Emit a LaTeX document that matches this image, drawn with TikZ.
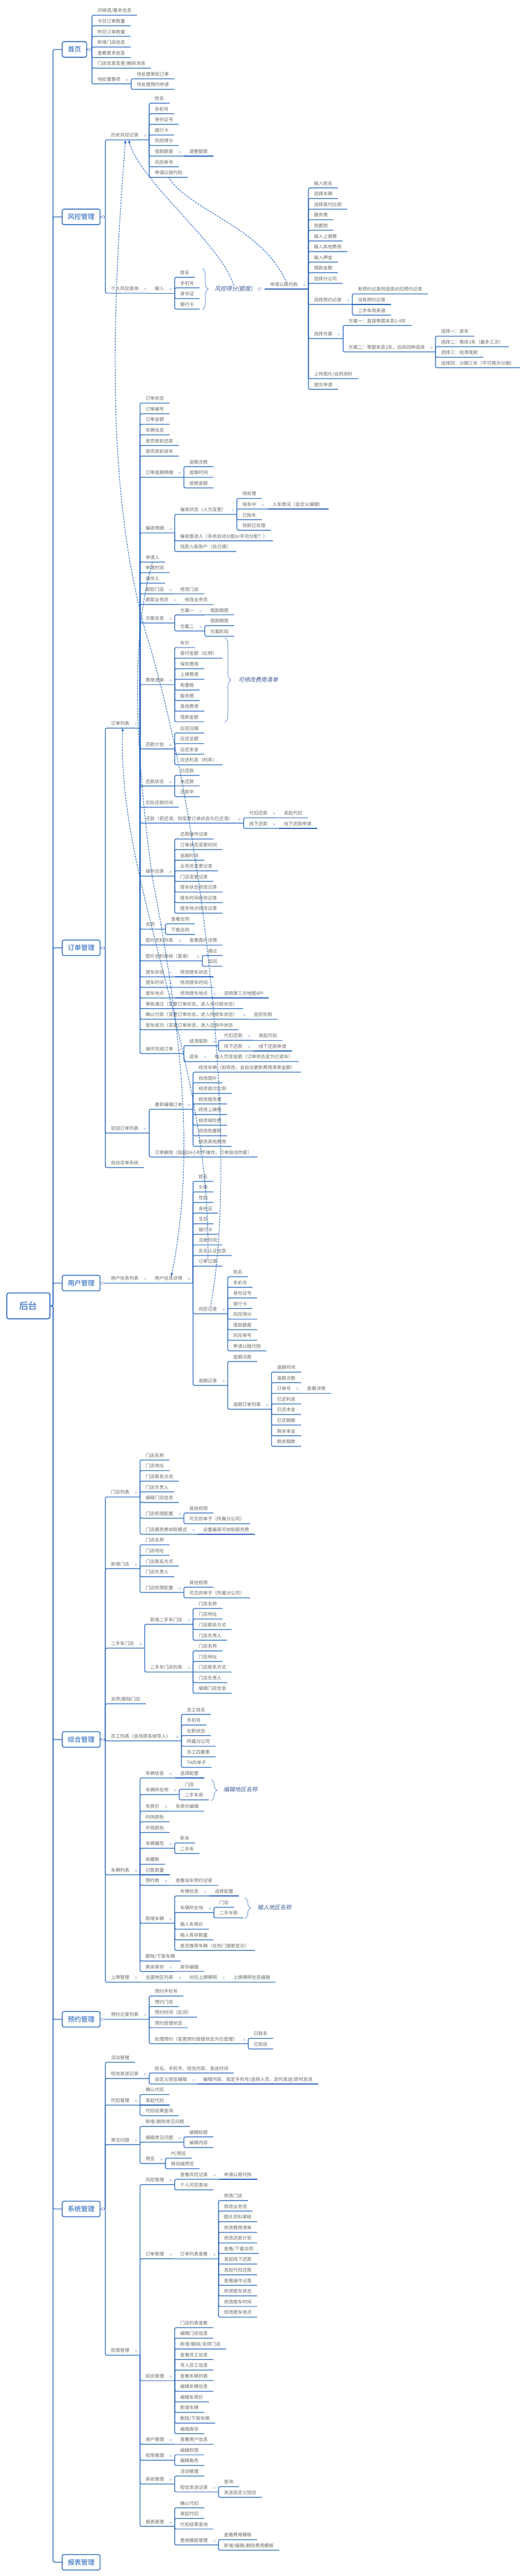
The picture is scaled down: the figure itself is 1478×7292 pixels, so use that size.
\documentclass[tikz,border=0pt]{standalone}
\usepackage{fontspec}
\setmainfont{Noto Sans CJK SC}
\newfontfamily\slantcjk{Noto Sans CJK SC}[FakeSlant=0.2]
\newfontfamily\symbolfont{DejaVu Sans}
\usetikzlibrary{arrows.meta,decorations.pathreplacing}

\definecolor{linkblue}{RGB}{22,90,182}
\definecolor{textgray}{RGB}{105,105,105}
\definecolor{foldblue}{RGB}{135,160,212}
\definecolor{braceblue}{RGB}{95,145,210}
\definecolor{noteblue}{RGB}{62,92,150}

\newcommand\foldmark{\hspace{15pt}{\symbolfont\fontsize{9}{9}\selectfont\textcolor{foldblue}{⊖}}\hspace{-8pt}}

\tikzset{
  link/.style={draw=linkblue, line width=1.8pt, rounded corners=4pt},
  topic/.style={anchor=south west, inner xsep=15.5pt, inner ysep=0pt, text height=10pt, text depth=8pt, text=textgray, font=\fontsize{13}{13}\selectfont},
  hub/.style={topic, execute at end node=\foldmark},
  topbox/.style={anchor=west, draw=linkblue, line width=2pt, rounded corners=5pt, inner xsep=15.5pt, minimum height=44pt, text=linkblue, font=\fontsize{19}{19}\selectfont},
  rootbox/.style={topbox, inner xsep=35pt, minimum height=73pt, line width=2.4pt, font=\fontsize{26}{26}\selectfont},
  note/.style={anchor=west, inner sep=2pt, text=noteblue, font=\slantcjk\fontsize{16}{16}\selectfont},
  curly/.style={decorate, decoration={brace, amplitude=17pt}, draw=braceblue, line width=1.4pt},
  relation/.style={draw=linkblue, line width=1.5pt, dash pattern=on 5pt off 3pt},
  foldring/.style={draw=foldblue, fill=white, line width=0.8pt}
}

\begin{document}
\begin{tikzpicture}[x=1pt, y=-1pt]
  \useasboundingbox (0,0) rectangle (1478,7292);

  \node[rootbox] (ht) at (18,3696.5) {后台};
  \node[topbox] (sy) at (175,140) {首页};
  \node[topbox] (fk) at (175,614) {风控管理};
  \node[topbox] (dd) at (175,2683) {订单管理};
  \node[topbox] (yh) at (175,3632) {用户管理};
  \node[topbox] (zh) at (175,4924) {综合管理};
  \node[topbox] (yy) at (175,5716) {预约管理};
  \node[topbox] (xt) at (175,6253) {系统管理};
  \node[topbox] (bb) at (175,7253) {报表管理};
  \foreach \b in {sy,fk,dd,yh,zh,yy,xt,bb} \draw[link] (ht.east) -| ([xshift=-25pt]\b.west) -- (\b.west);

  \node[topic, xshift=14pt] (sy-1) at (sy.east |- 0,43) {问候语/基本信息};
  \node[topic, xshift=14pt] (sy-2) at (sy.east |- 0,73) {今日订单数量};
  \node[topic, xshift=14pt] (sy-3) at (sy.east |- 0,103) {昨日订单数量};
  \node[topic, xshift=14pt] (sy-4) at (sy.east |- 0,133) {新增门店信息};
  \node[topic, xshift=14pt] (sy-5) at (sy.east |- 0,163) {查看更多信息};
  \node[topic, xshift=14pt] (sy-6) at (sy.east |- 0,193) {门店信息变更/删除消息};
  \node[hub, xshift=14pt] (sy-7) at (sy.east |- 0,237.5) {待处理事项};
  \node[topic] (sy-7-1) at (sy-7.south east |- 0,223) {待处理审批订单};
  \node[topic] (sy-7-2) at (sy-7.south east |- 0,253) {待处理预约申请};
  \foreach \k in {1,...,7} \draw[link] (sy.east) -- ++(14pt,0) |- (sy-\k.south east);
  \foreach \k in {1,2} \draw[link] (sy-7.south east) |- (sy-7-\k.south east);

  \node[hub, xshift=14pt] (fk-1) at (fk.east |- 0,396) {历史风控记录};
  \node[topic] (fk-1-1) at (fk-1.south east |- 0,292) {姓名};
  \node[topic] (fk-1-2) at (fk-1.south east |- 0,322) {手机号};
  \node[topic] (fk-1-3) at (fk-1.south east |- 0,352) {身份证号};
  \node[topic] (fk-1-4) at (fk-1.south east |- 0,382) {银行卡};
  \node[topic] (fk-1-5) at (fk-1.south east |- 0,412) {风控得分};
  \node[hub] (fk-1-6) at (fk-1.south east |- 0,442) {借款额度};
  \node[topic] (fk-1-6-1) at (fk-1-6.south east) {调整额度};
  \node[topic] (fk-1-7) at (fk-1.south east |- 0,472) {风控单号};
  \node[topic] (fk-1-8) at (fk-1.south east |- 0,502) {申请以租代购};
  \node[hub, xshift=14pt] (fk-2) at (fk.east |- 0,830) {个人风控查询};
  \node[hub] (fk-2-1) at (fk-2.south east) {输入};
  \node[topic] (fk-2-1-1) at (fk-2-1.south east |- 0,785) {姓名};
  \node[topic] (fk-2-1-2) at (fk-2-1.south east |- 0,815) {手机号};
  \node[topic] (fk-2-1-3) at (fk-2-1.south east |- 0,845) {身份证};
  \node[topic] (fk-2-1-4) at (fk-2-1.south east |- 0,875) {银行卡};
  \draw[curly] (572,760) -- (572,877);
  \node[note] (fkdf) at (605,818) {风控得分(额度)};
  \node[hub, xshift=32pt] (zl) at (fkdf.east) {申请以租代购};
  \node[topic] (zl-1) at (zl.south east |- 0,532) {输入姓名};
  \node[topic] (zl-2) at (zl.south east |- 0,562) {选择车辆};
  \node[topic] (zl-3) at (zl.south east |- 0,592) {选择首付比例};
  \node[topic] (zl-4) at (zl.south east |- 0,622) {服务费};
  \node[topic] (zl-5) at (zl.south east |- 0,652) {购置税};
  \node[topic] (zl-6) at (zl.south east |- 0,682) {输入上牌费};
  \node[topic] (zl-7) at (zl.south east |- 0,712) {输入其他费用};
  \node[topic] (zl-8) at (zl.south east |- 0,742) {输入押金};
  \node[topic] (zl-9) at (zl.south east |- 0,772) {借款金额};
  \node[topic] (zl-10) at (zl.south east |- 0,802) {选择分公司};
  \node[hub] (zl-11) at (zl.south east |- 0,862) {选择预约记录};
  \node[topic] (zl-11-1) at (zl-11.south east |- 0,832) {有预约记录则选择对应预约记录};
  \node[topic] (zl-11-2) at (zl-11.south east) {没有预约记录};
  \node[topic] (zl-11-3) at (zl-11.south east |- 0,892) {二手车商来源};
  \node[hub] (zl-12) at (zl.south east |- 0,958.5) {选择方案};
  \node[topic] (zl-12-1) at (zl-12.south east |- 0,921.5) {方案一：直接等额本息1-4年};
  \node[hub] (zl-12-2) at (zl-12.south east |- 0,996) {方案二：等额本息1年，后续四种选择};
  \node[topic] (zl-12-2-1) at (zl-12-2.south east |- 0,951.5) {选择一：退车};
  \node[topic] (zl-12-2-2) at (zl-12-2.south east |- 0,981.5) {选择二：再续1年（最多三次）};
  \node[topic] (zl-12-2-3) at (zl-12-2.south east |- 0,1011.5) {选择三：结清尾款};
  \node[topic] (zl-12-2-4) at (zl-12-2.south east |- 0,1041) {选择四：分期三年（不可再次分期）};
  \node[topic] (zl-13) at (zl.south east |- 0,1072) {上传图片/合同资料};
  \node[topic] (zl-14) at (zl.south east |- 0,1102) {提交申请};
  \foreach \k in {1,2} \draw[link] (fk.east) -- ++(14pt,0) |- (fk-\k.south east);
  \foreach \k in {1,...,8} \draw[link] (fk-1.south east) |- (fk-1-\k.south east);
  \draw[link] (fk-1-6.south east) -- (fk-1-6-1.south east);
  \draw[link] (fk-2.south east) -- (fk-2-1.south east);
  \foreach \k in {1,...,4} \draw[link] (fk-2-1.south east) |- (fk-2-1-\k.south east);
  \draw[link] (fkdf.east) ++(32pt,0) -- (zl.south east);
  \foreach \k in {1,...,14} \draw[link] (zl.south east) |- (zl-\k.south east);
  \foreach \k in {1,3} \draw[link] (zl-11.south east) |- (zl-11-\k.south east);
  \draw[link] (zl-11.south east) -- (zl-11-2.south east);
  \foreach \k in {1,2} \draw[link] (zl-12.south east) |- (zl-12-\k.south east);
  \foreach \k in {1,...,4} \draw[link] (zl-12-2.south east) |- (zl-12-2-\k.south east);

  \node[hub, xshift=14pt] (dd-1) at (dd.east |- 0,2061) {订单列表};
  \node[topic] (dd-1-1) at (dd-1.south east |- 0,1141) {订单状态};
  \node[topic] (dd-1-2) at (dd-1.south east |- 0,1171) {订单编号};
  \node[topic] (dd-1-3) at (dd-1.south east |- 0,1201) {订单金额};
  \node[topic] (dd-1-4) at (dd-1.south east |- 0,1231) {车辆信息};
  \node[topic] (dd-1-5) at (dd-1.south east |- 0,1261) {是否提前还款};
  \node[topic] (dd-1-6) at (dd-1.south east |- 0,1291) {是否提前退车};
  \node[hub] (dd-1-7) at (dd-1.south east |- 0,1351) {订单逾期明细};
  \node[topic] (dd-1-7-1) at (dd-1-7.south east |- 0,1321) {逾期次数};
  \node[topic] (dd-1-7-2) at (dd-1-7.south east) {逾期时间};
  \node[topic] (dd-1-7-3) at (dd-1-7.south east |- 0,1381) {逾期金额};
  \node[hub] (dd-1-8) at (dd-1.south east |- 0,1508.5) {催收明细};
  \node[hub] (dd-1-8-1) at (dd-1-8.south east |- 0,1456) {催收状态（人为变更）};
  \node[topic] (dd-1-8-1-1) at (dd-1-8-1.south east |- 0,1411) {待处理};
  \node[hub] (dd-1-8-1-2) at (dd-1-8-1.south east |- 0,1441) {拖车中};
  \node[topic] (dd-1-8-1-2-1) at (dd-1-8-1-2.south east) {人车情况（自定义编辑）};
  \node[topic] (dd-1-8-1-3) at (dd-1-8-1.south east |- 0,1471) {已拖车};
  \node[topic] (dd-1-8-1-4) at (dd-1-8-1.south east |- 0,1501) {钱款已处理};
  \node[topic] (dd-1-8-2) at (dd-1-8.south east |- 0,1531) {催收跟进人（系统自动分配or手动分配？）};
  \node[topic] (dd-1-8-3) at (dd-1-8.south east |- 0,1561) {钱款入账账户（自己填）};
  \node[topic] (dd-1-9) at (dd-1.south east |- 0,1591) {申请人};
  \node[topic] (dd-1-10) at (dd-1.south east |- 0,1621) {申请时间};
  \node[topic] (dd-1-11) at (dd-1.south east |- 0,1651) {操作人};
  \node[hub] (dd-1-12) at (dd-1.south east |- 0,1681) {跟踪门店};
  \node[topic] (dd-1-12-1) at (dd-1-12.south east) {修改门店};
  \node[hub] (dd-1-13) at (dd-1.south east |- 0,1711) {跟踪业务员};
  \node[topic] (dd-1-13-1) at (dd-1-13.south east) {修改业务员};
  \node[hub] (dd-1-14) at (dd-1.south east |- 0,1763.5) {方案信息};
  \node[hub] (dd-1-14-1) at (dd-1-14.south east |- 0,1741) {方案一};
  \node[topic] (dd-1-14-1-1) at (dd-1-14-1.south east) {借款期限};
  \node[hub] (dd-1-14-2) at (dd-1-14.south east |- 0,1786) {方案二};
  \node[topic] (dd-1-14-2-1) at (dd-1-14-2.south east |- 0,1771) {借款期限};
  \node[topic] (dd-1-14-2-2) at (dd-1-14-2.south east |- 0,1801) {方案阶段};
  \node[hub] (dd-1-15) at (dd-1.south east |- 0,1938) {费用清单};
  \node[topic] (dd-1-15-1) at (dd-1-15.south east |- 0,1833) {车价};
  \node[topic] (dd-1-15-2) at (dd-1-15.south east |- 0,1863) {首付金额（比例）};
  \node[topic] (dd-1-15-3) at (dd-1-15.south east |- 0,1893) {保险费用};
  \node[topic] (dd-1-15-4) at (dd-1-15.south east |- 0,1923) {上牌费用};
  \node[topic] (dd-1-15-5) at (dd-1-15.south east |- 0,1953) {购置税};
  \node[topic] (dd-1-15-6) at (dd-1-15.south east |- 0,1983) {服务费};
  \node[topic] (dd-1-15-7) at (dd-1-15.south east |- 0,2013) {其他费用};
  \node[topic] (dd-1-15-8) at (dd-1-15.south east |- 0,2043) {借款金额};
  \draw[curly] (636,1806) -- (636,2044);
  \node[note] (kxg) at (672,1924) {可修改费用清单};
  \node[hub] (dd-1-16) at (dd-1.south east |- 0,2120) {还款计划};
  \node[topic] (dd-1-16-1) at (dd-1-16.south east |- 0,2075) {应还日期};
  \node[topic] (dd-1-16-2) at (dd-1-16.south east |- 0,2105) {应还总额};
  \node[topic] (dd-1-16-3) at (dd-1-16.south east |- 0,2135) {应还本金};
  \node[topic] (dd-1-16-4) at (dd-1-16.south east |- 0,2165) {应还利息（利率）};
  \node[hub] (dd-1-17) at (dd-1.south east |- 0,2225) {还款状态};
  \node[topic] (dd-1-17-1) at (dd-1-17.south east |- 0,2195) {已还款};
  \node[topic] (dd-1-17-2) at (dd-1-17.south east) {未还款};
  \node[topic] (dd-1-17-3) at (dd-1-17.south east |- 0,2255) {还款中};
  \node[topic] (dd-1-18) at (dd-1.south east |- 0,2285) {实际还款时间};
  \node[hub] (dd-1-19) at (dd-1.south east |- 0,2330) {还款（若还清，则变更订单状态为已还清）};
  \node[hub] (dd-1-19-1) at (dd-1-19.south east |- 0,2315) {代扣还款};
  \node[topic] (dd-1-19-1-1) at (dd-1-19-1.south east) {发起代扣};
  \node[hub] (dd-1-19-2) at (dd-1-19.south east |- 0,2345) {线下还款};
  \node[topic] (dd-1-19-2-1) at (dd-1-19-2.south east) {线下还款申请};
  \node[hub] (dd-1-20) at (dd-1.south east |- 0,2480) {操作记录};
  \node[topic] (dd-1-20-1) at (dd-1-20.south east |- 0,2375) {还款操作记录};
  \node[topic] (dd-1-20-2) at (dd-1-20.south east |- 0,2405) {订单状态变更时间};
  \node[topic] (dd-1-20-3) at (dd-1-20.south east |- 0,2435) {逾期时间};
  \node[topic] (dd-1-20-4) at (dd-1-20.south east |- 0,2465) {业务员变更记录};
  \node[topic] (dd-1-20-5) at (dd-1-20.south east |- 0,2495) {门店变更记录};
  \node[topic] (dd-1-20-6) at (dd-1-20.south east |- 0,2525) {提车状态修改记录};
  \node[topic] (dd-1-20-7) at (dd-1-20.south east |- 0,2555) {提车时间修改记录};
  \node[topic] (dd-1-20-8) at (dd-1-20.south east |- 0,2585) {提车地点修改记录};
  \node[hub] (dd-1-21) at (dd-1.south east |- 0,2630) {合同};
  \node[topic] (dd-1-21-1) at (dd-1-21.south east |- 0,2615) {查看合同};
  \node[topic] (dd-1-21-2) at (dd-1-21.south east |- 0,2645) {下载合同};
  \node[hub] (dd-1-22) at (dd-1.south east |- 0,2675) {图片资料列表};
  \node[topic] (dd-1-22-1) at (dd-1-22.south east) {查看图片详情};
  \node[hub] (dd-1-23) at (dd-1.south east |- 0,2720) {图片资料审核（复审）};
  \node[topic] (dd-1-23-1) at (dd-1-23.south east |- 0,2705) {通过};
  \node[topic] (dd-1-23-2) at (dd-1-23.south east |- 0,2735) {驳回};
  \node[hub] (dd-1-24) at (dd-1.south east |- 0,2765) {提车状态};
  \node[topic] (dd-1-24-1) at (dd-1-24.south east) {修改提车状态};
  \node[hub] (dd-1-25) at (dd-1.south east |- 0,2795) {提车时间};
  \node[topic] (dd-1-25-1) at (dd-1-25.south east) {修改提车时间};
  \node[hub] (dd-1-26) at (dd-1.south east |- 0,2825) {提车地点};
  \node[hub] (dd-1-26-1) at (dd-1-26.south east) {修改提车地点};
  \node[topic] (dd-1-26-1-1) at (dd-1-26-1.south east) {调用第三方地图API};
  \node[topic] (dd-1-27) at (dd-1.south east |- 0,2855) {审核通过（变更订单状态，进入待付款状态）};
  \node[hub] (dd-1-28) at (dd-1.south east |- 0,2885) {确认付款（变更订单状态，进入待提车状态）};
  \node[topic] (dd-1-28-1) at (dd-1-28.south east) {监控机制};
  \node[topic] (dd-1-29) at (dd-1.south east |- 0,2915) {提车成功（变更订单状态，进入还款中状态};
  \node[hub] (dd-1-30) at (dd-1.south east |- 0,2982.5) {操作完成订单};
  \node[hub] (dd-1-30-1) at (dd-1-30.south east |- 0,2960) {结清尾款};
  \node[hub] (dd-1-30-1-1) at (dd-1-30-1.south east |- 0,2945) {代扣还款};
  \node[topic] (dd-1-30-1-1-1) at (dd-1-30-1-1.south east) {发起代扣};
  \node[hub] (dd-1-30-1-2) at (dd-1-30-1.south east |- 0,2975) {线下还款};
  \node[topic] (dd-1-30-1-2-1) at (dd-1-30-1-2.south east) {线下还款申请};
  \node[hub] (dd-1-30-2) at (dd-1-30.south east |- 0,3005) {退车};
  \node[topic] (dd-1-30-2-1) at (dd-1-30-2.south east) {输入罚息金额（订单状态变为已退车）};
  \node[hub, xshift=14pt] (dd-2) at (dd.east |- 0,3207.5) {驳回订单列表};
  \node[hub] (dd-2-1) at (dd-2.south east |- 0,3140) {重新编辑订单};
  \node[topic] (dd-2-1-1) at (dd-2-1.south east |- 0,3035) {修改车辆（如修改，会自动更新费用清单金额）};
  \node[topic] (dd-2-1-2) at (dd-2-1.south east |- 0,3065) {修改图片};
  \node[topic] (dd-2-1-3) at (dd-2-1.south east |- 0,3095) {修改首付比例};
  \node[topic] (dd-2-1-4) at (dd-2-1.south east |- 0,3125) {修改服务费};
  \node[topic] (dd-2-1-5) at (dd-2-1.south east |- 0,3155) {修改上牌费};
  \node[topic] (dd-2-1-6) at (dd-2-1.south east |- 0,3185) {修改保险费};
  \node[topic] (dd-2-1-7) at (dd-2-1.south east |- 0,3215) {修改购置税};
  \node[topic] (dd-2-1-8) at (dd-2-1.south east |- 0,3245) {修改其他费用};
  \node[topic] (dd-2-2) at (dd-2.south east |- 0,3275) {订单删除（如超24小时不操作，订单自动作废）};
  \node[topic, xshift=14pt] (dd-3) at (dd.east |- 0,3305) {自动派单系统};
  \foreach \k in {1,2,3} \draw[link] (dd.east) -- ++(14pt,0) |- (dd-\k.south east);
  \foreach \k in {1,...,30} \draw[link] (dd-1.south east) |- (dd-1-\k.south east);
  \foreach \k in {1,3} \draw[link] (dd-1-7.south east) |- (dd-1-7-\k.south east);
  \draw[link] (dd-1-7.south east) -- (dd-1-7-2.south east);
  \foreach \k in {1,2,3} \draw[link] (dd-1-8.south east) |- (dd-1-8-\k.south east);
  \foreach \k in {1,...,4} \draw[link] (dd-1-8-1.south east) |- (dd-1-8-1-\k.south east);
  \draw[link] (dd-1-8-1-2.south east) -- (dd-1-8-1-2-1.south east);
  \foreach \k in {12,13,22,24,25,26,28} \draw[link] (dd-1-\k.south east) -- (dd-1-\k-1.south east);
  \draw[link] (dd-1-26-1.south east) -- (dd-1-26-1-1.south east);
  \foreach \k in {1,2} \draw[link] (dd-1-14.south east) |- (dd-1-14-\k.south east);
  \draw[link] (dd-1-14-1.south east) -- (dd-1-14-1-1.south east);
  \foreach \k in {1,2} \draw[link] (dd-1-14-2.south east) |- (dd-1-14-2-\k.south east);
  \foreach \k in {1,...,8} \draw[link] (dd-1-15.south east) |- (dd-1-15-\k.south east);
  \foreach \k in {1,...,4} \draw[link] (dd-1-16.south east) |- (dd-1-16-\k.south east);
  \foreach \k in {1,3} \draw[link] (dd-1-17.south east) |- (dd-1-17-\k.south east);
  \draw[link] (dd-1-17.south east) -- (dd-1-17-2.south east);
  \foreach \k in {1,2} \draw[link] (dd-1-19.south east) |- (dd-1-19-\k.south east);
  \foreach \k in {1,2} \draw[link] (dd-1-19-\k.south east) -- (dd-1-19-\k-1.south east);
  \foreach \k in {1,...,8} \draw[link] (dd-1-20.south east) |- (dd-1-20-\k.south east);
  \foreach \k in {1,2} \draw[link] (dd-1-21.south east) |- (dd-1-21-\k.south east);
  \foreach \k in {1,2} \draw[link] (dd-1-23.south east) |- (dd-1-23-\k.south east);
  \foreach \k in {1,2} \draw[link] (dd-1-30.south east) |- (dd-1-30-\k.south east);
  \foreach \k in {1,2} \draw[link] (dd-1-30-1.south east) |- (dd-1-30-1-\k.south east);
  \foreach \k in {1,2} \draw[link] (dd-1-30-1-\k.south east) -- (dd-1-30-1-\k-1.south east);
  \draw[link] (dd-1-30-2.south east) -- (dd-1-30-2-1.south east);
  \foreach \k in {1,2} \draw[link] (dd-2.south east) |- (dd-2-\k.south east);
  \foreach \k in {1,...,8} \draw[link] (dd-2-1.south east) |- (dd-2-1-\k.south east);

  \node[hub, xshift=14pt] (yh-1) at (yh.east) {用户信息列表};
  \node[hub] (yh-1-1) at (yh-1.south east) {用户信息详情};
  \node[topic] (yh-1-1-1) at (yh-1-1.south east |- 0,3344) {姓名};
  \node[topic] (yh-1-1-2) at (yh-1-1.south east |- 0,3374) {头像};
  \node[topic] (yh-1-1-3) at (yh-1-1.south east |- 0,3404) {性别};
  \node[topic] (yh-1-1-4) at (yh-1-1.south east |- 0,3434) {身份证};
  \node[topic] (yh-1-1-5) at (yh-1-1.south east |- 0,3464) {生日};
  \node[topic] (yh-1-1-6) at (yh-1-1.south east |- 0,3494) {银行卡};
  \node[topic] (yh-1-1-7) at (yh-1-1.south east |- 0,3524) {注册时间};
  \node[topic] (yh-1-1-8) at (yh-1-1.south east |- 0,3554) {实名认证信息};
  \node[topic] (yh-1-1-9) at (yh-1-1.south east |- 0,3584) {订单记录};
  \node[hub] (yh-1-1-10) at (yh-1-1.south east |- 0,3719) {风控记录};
  \node[topic] (yh-1-1-10-1) at (yh-1-1-10.south east |- 0,3614) {姓名};
  \node[topic] (yh-1-1-10-2) at (yh-1-1-10.south east |- 0,3644) {手机号};
  \node[topic] (yh-1-1-10-3) at (yh-1-1-10.south east |- 0,3674) {身份证号};
  \node[topic] (yh-1-1-10-4) at (yh-1-1-10.south east |- 0,3704) {银行卡};
  \node[topic] (yh-1-1-10-5) at (yh-1-1-10.south east |- 0,3734) {风控得分};
  \node[topic] (yh-1-1-10-6) at (yh-1-1-10.south east |- 0,3764) {借款额度};
  \node[topic] (yh-1-1-10-7) at (yh-1-1-10.south east |- 0,3794) {风控单号};
  \node[topic] (yh-1-1-10-8) at (yh-1-1-10.south east |- 0,3824) {申请以租代购};
  \node[hub] (yh-1-1-11) at (yh-1-1.south east |- 0,3921.5) {逾期记录};
  \node[topic] (yh-1-1-11-1) at (yh-1-1-11.south east |- 0,3854) {逾期次数};
  \node[hub] (yh-1-1-11-2) at (yh-1-1-11.south east |- 0,3989) {逾期订单列表};
  \node[topic] (yh-1-1-11-2-1) at (yh-1-1-11-2.south east |- 0,3884) {逾期时间};
  \node[topic] (yh-1-1-11-2-2) at (yh-1-1-11-2.south east |- 0,3914) {逾期次数};
  \node[hub] (yh-1-1-11-2-3) at (yh-1-1-11-2.south east |- 0,3944) {订单号};
  \node[topic] (yh-1-1-11-2-3-1) at (yh-1-1-11-2-3.south east) {查看详情};
  \node[topic] (yh-1-1-11-2-4) at (yh-1-1-11-2.south east |- 0,3974) {已还利息};
  \node[topic] (yh-1-1-11-2-5) at (yh-1-1-11-2.south east |- 0,4004) {已还本金};
  \node[topic] (yh-1-1-11-2-6) at (yh-1-1-11-2.south east |- 0,4034) {已还期数};
  \node[topic] (yh-1-1-11-2-7) at (yh-1-1-11-2.south east |- 0,4064) {剩余本金};
  \node[topic] (yh-1-1-11-2-8) at (yh-1-1-11-2.south east |- 0,4094) {剩余期数};
  \draw[link] (yh.east) -- (yh-1.south east);
  \draw[link] (yh-1.south east) -- (yh-1-1.south east);
  \foreach \k in {1,...,11} \draw[link] (yh-1-1.south east) |- (yh-1-1-\k.south east);
  \foreach \k in {1,...,8} \draw[link] (yh-1-1-10.south east) |- (yh-1-1-10-\k.south east);
  \foreach \k in {1,2} \draw[link] (yh-1-1-11.south east) |- (yh-1-1-11-\k.south east);
  \foreach \k in {1,...,8} \draw[link] (yh-1-1-11-2.south east) |- (yh-1-1-11-2-\k.south east);
  \draw[link] (yh-1-1-11-2-3.south east) -- (yh-1-1-11-2-3-1.south east);

  \node[hub, xshift=14pt] (zh-1) at (zh.east |- 0,4237.5) {门店列表};
  \node[topic] (zh-1-1) at (zh-1.south east |- 0,4133) {门店名称};
  \node[topic] (zh-1-2) at (zh-1.south east |- 0,4163) {门店地址};
  \node[topic] (zh-1-3) at (zh-1.south east |- 0,4193) {门店联系方式};
  \node[topic] (zh-1-4) at (zh-1.south east |- 0,4223) {门店负责人};
  \node[topic] (zh-1-5) at (zh-1.south east |- 0,4253) {编辑门店信息};
  \node[hub] (zh-1-6) at (zh-1.south east |- 0,4298) {门店权限配置};
  \node[topic] (zh-1-6-1) at (zh-1-6.south east |- 0,4283) {其他权限};
  \node[topic] (zh-1-6-2) at (zh-1-6.south east |- 0,4313) {可见的单子（所属分公司）};
  \node[hub] (zh-1-7) at (zh-1.south east |- 0,4343) {门店服务费收取模式};
  \node[topic] (zh-1-7-1) at (zh-1-7.south east) {设置最高可收取服务费};
  \node[hub, xshift=14pt] (zh-2) at (zh.east |- 0,4440.5) {新增门店};
  \node[topic] (zh-2-1) at (zh-2.south east |- 0,4373) {门店名称};
  \node[topic] (zh-2-2) at (zh-2.south east |- 0,4403) {门店地址};
  \node[topic] (zh-2-3) at (zh-2.south east |- 0,4433) {门店联系方式};
  \node[topic] (zh-2-4) at (zh-2.south east |- 0,4463) {门店负责人};
  \node[hub] (zh-2-5) at (zh-2.south east |- 0,4508) {门店权限配置};
  \node[topic] (zh-2-5-1) at (zh-2-5.south east |- 0,4493) {其他权限};
  \node[topic] (zh-2-5-2) at (zh-2-5.south east |- 0,4523) {可见的单子（所属分公司）};
  \node[hub, xshift=14pt] (zh-3) at (zh.east |- 0,4665.5) {二手车门店};
  \node[hub] (zh-3-1) at (zh-3.south east |- 0,4598) {新增二手车门店};
  \node[topic] (zh-3-1-1) at (zh-3-1.south east |- 0,4553) {门店名称};
  \node[topic] (zh-3-1-2) at (zh-3-1.south east |- 0,4583) {门店地址};
  \node[topic] (zh-3-1-3) at (zh-3-1.south east |- 0,4613) {门店联系方式};
  \node[topic] (zh-3-1-4) at (zh-3-1.south east |- 0,4643) {门店负责人};
  \node[hub] (zh-3-2) at (zh-3.south east |- 0,4733) {二手车门店列表};
  \node[topic] (zh-3-2-1) at (zh-3-2.south east |- 0,4673) {门店名称};
  \node[topic] (zh-3-2-2) at (zh-3-2.south east |- 0,4703) {门店地址};
  \node[topic] (zh-3-2-3) at (zh-3-2.south east) {门店联系方式};
  \node[topic] (zh-3-2-4) at (zh-3-2.south east |- 0,4763) {门店负责人};
  \node[topic] (zh-3-2-5) at (zh-3-2.south east |- 0,4793) {编辑门店信息};
  \node[topic, xshift=14pt] (zh-4) at (zh.east |- 0,4823) {关停/删除门店};
  \node[hub, xshift=14pt] (zh-5) at (zh.east |- 0,4928) {员工列表（支持原系统导入）};
  \node[topic] (zh-5-1) at (zh-5.south east |- 0,4853) {员工姓名};
  \node[topic] (zh-5-2) at (zh-5.south east |- 0,4883) {手机号};
  \node[topic] (zh-5-3) at (zh-5.south east |- 0,4913) {在职状态};
  \node[topic] (zh-5-4) at (zh-5.south east |- 0,4943) {所属分公司};
  \node[topic] (zh-5-5) at (zh-5.south east |- 0,4973) {员工四要素};
  \node[topic] (zh-5-6) at (zh-5.south east |- 0,5003) {TA的单子};
  \node[hub, xshift=14pt] (zh-6) at (zh.east |- 0,5307) {车辆列表};
  \node[hub] (zh-6-1) at (zh-6.south east |- 0,5033) {车辆信息};
  \node[topic] (zh-6-1-1) at (zh-6-1.south east) {选择配置};
  \node[hub] (zh-6-2) at (zh-6.south east |- 0,5080) {车辆所在地};
  \node[topic] (zh-6-2-1) at (zh-6-2.south east |- 0,5065) {门店};
  \node[topic] (zh-6-2-2) at (zh-6-2.south east |- 0,5095) {二手车商};
  \draw[curly] (597,5038) -- (597,5097);
  \node[note] (bjdq) at (630,5066) {编辑地区名称};
  \node[hub] (zh-6-3) at (zh-6.south east |- 0,5127) {车商价};
  \node[topic] (zh-6-3-1) at (zh-6-3.south east) {车商价编辑};
  \node[topic] (zh-6-4) at (zh-6.south east |- 0,5157) {内饰颜色};
  \node[topic] (zh-6-5) at (zh-6.south east |- 0,5187) {外观颜色};
  \node[hub] (zh-6-6) at (zh-6.south east |- 0,5232) {车辆属性};
  \node[topic] (zh-6-6-1) at (zh-6-6.south east |- 0,5217) {新车};
  \node[topic] (zh-6-6-2) at (zh-6-6.south east |- 0,5247) {二手车};
  \node[topic] (zh-6-7) at (zh-6.south east |- 0,5277) {收藏数};
  \node[topic] (zh-6-8) at (zh-6.south east) {已售数量};
  \node[hub] (zh-6-9) at (zh-6.south east |- 0,5337) {预约数};
  \node[topic] (zh-6-9-1) at (zh-6-9.south east) {查看该车预约记录};
  \node[hub] (zh-6-10) at (zh-6.south east |- 0,5444) {新增车辆};
  \node[hub] (zh-6-10-1) at (zh-6-10.south east |- 0,5367) {车辆信息};
  \node[topic] (zh-6-10-1-1) at (zh-6-10-1.south east) {选择配置};
  \node[hub] (zh-6-10-2) at (zh-6-10.south east |- 0,5414) {车辆所在地};
  \node[topic] (zh-6-10-2-1) at (zh-6-10-2.south east |- 0,5399) {门店};
  \node[topic] (zh-6-10-2-2) at (zh-6-10-2.south east |- 0,5429) {二手车商};
  \draw[curly] (692,5372) -- (692,5431);
  \node[note] (srdq) at (726,5400) {输入地区名称};
  \node[topic] (zh-6-10-3) at (zh-6-10.south east |- 0,5461) {输入车商价};
  \node[topic] (zh-6-10-4) at (zh-6-10.south east |- 0,5491) {输入库存数量};
  \node[topic] (zh-6-10-5) at (zh-6-10.south east |- 0,5521) {是否推荐车辆（在热门搜索显示）};
  \node[topic] (zh-6-11) at (zh-6.south east |- 0,5551) {删除/下架车辆};
  \node[hub] (zh-6-12) at (zh-6.south east |- 0,5581) {剩余库存};
  \node[topic] (zh-6-12-1) at (zh-6-12.south east) {库存编辑};
  \node[hub, xshift=14pt] (zh-7) at (zh.east |- 0,5611) {上牌管理};
  \node[hub] (zh-7-1) at (zh-7.south east) {全国地区列表};
  \node[hub] (zh-7-1-1) at (zh-7-1.south east) {对应上牌牌照};
  \node[topic] (zh-7-1-1-1) at (zh-7-1-1.south east) {上牌牌照信息编辑};
  \foreach \k in {1,...,7} \draw[link] (zh.east) -- ++(14pt,0) |- (zh-\k.south east);
  \foreach \k in {1,...,7} \draw[link] (zh-1.south east) |- (zh-1-\k.south east);
  \foreach \k in {1,2} \draw[link] (zh-1-6.south east) |- (zh-1-6-\k.south east);
  \draw[link] (zh-1-7.south east) -- (zh-1-7-1.south east);
  \foreach \k in {1,...,5} \draw[link] (zh-2.south east) |- (zh-2-\k.south east);
  \foreach \k in {1,2} \draw[link] (zh-2-5.south east) |- (zh-2-5-\k.south east);
  \foreach \k in {1,2} \draw[link] (zh-3.south east) |- (zh-3-\k.south east);
  \foreach \k in {1,...,4} \draw[link] (zh-3-1.south east) |- (zh-3-1-\k.south east);
  \foreach \k in {1,2,4,5} \draw[link] (zh-3-2.south east) |- (zh-3-2-\k.south east);
  \draw[link] (zh-3-2.south east) -- (zh-3-2-3.south east);
  \foreach \k in {1,...,6} \draw[link] (zh-5.south east) |- (zh-5-\k.south east);
  \foreach \k in {1,...,7,9,10,11,12} \draw[link] (zh-6.south east) |- (zh-6-\k.south east);
  \draw[link] (zh-6.south east) -- (zh-6-8.south east);
  \foreach \k in {1,3,9,12} \draw[link] (zh-6-\k.south east) -- (zh-6-\k-1.south east);
  \foreach \k in {1,2} \draw[link] (zh-6-2.south east) |- (zh-6-2-\k.south east);
  \foreach \k in {1,2} \draw[link] (zh-6-6.south east) |- (zh-6-6-\k.south east);
  \foreach \k in {1,...,5} \draw[link] (zh-6-10.south east) |- (zh-6-10-\k.south east);
  \draw[link] (zh-6-10-1.south east) -- (zh-6-10-1-1.south east);
  \foreach \k in {1,2} \draw[link] (zh-6-10-2.south east) |- (zh-6-10-2-\k.south east);
  \draw[link] (zh-7.south east) -- (zh-7-1.south east);
  \draw[link] (zh-7-1.south east) -- (zh-7-1-1.south east);
  \draw[link] (zh-7-1-1.south east) -- (zh-7-1-1-1.south east);

  \node[hub, xshift=14pt] (yy-1) at (yy.east) {预约记录列表};
  \node[topic] (yy-1-1) at (yy-1.south east |- 0,5650) {预约手机号};
  \node[topic] (yy-1-2) at (yy-1.south east |- 0,5680) {预约门店};
  \node[topic] (yy-1-3) at (yy-1.south east |- 0,5710) {预约时间（区间）};
  \node[topic] (yy-1-4) at (yy-1.south east |- 0,5740) {预约受理状态};
  \node[hub] (yy-1-5) at (yy-1.south east |- 0,5785) {处理预约（变更预约受理状态为已受理）};
  \node[topic] (yy-1-5-1) at (yy-1-5.south east |- 0,5770) {已联系};
  \node[topic] (yy-1-5-2) at (yy-1-5.south east |- 0,5800) {已到店};
  \draw[link] (yy.east) -- (yy-1.south east);
  \foreach \k in {1,...,5} \draw[link] (yy-1.south east) |- (yy-1-\k.south east);
  \foreach \k in {1,2} \draw[link] (yy-1-5.south east) |- (yy-1-5-\k.south east);

  \node[topic, xshift=14pt] (xt-1) at (xt.east |- 0,5838) {活动管理};
  \node[hub, xshift=14pt] (xt-2) at (xt.east |- 0,5883.5) {短信发送记录};
  \node[topic] (xt-2-1) at (xt-2.south east |- 0,5868) {姓名、手机号、短信内容、发送时间};
  \node[hub] (xt-2-2) at (xt-2.south east |- 0,5899) {自定义短信编辑};
  \node[topic] (xt-2-2-1) at (xt-2-2.south east) {编辑内容、指定手机号/选择人员、定时发送/即时发送};
  \node[hub, xshift=14pt] (xt-3) at (xt.east |- 0,5959) {代扣管理};
  \node[topic] (xt-3-1) at (xt-3.south east |- 0,5929) {确认代扣};
  \node[topic] (xt-3-2) at (xt-3.south east) {发起代扣};
  \node[topic] (xt-3-3) at (xt-3.south east |- 0,5989) {代扣结果查询};
  \node[hub, xshift=14pt] (xt-4) at (xt.east |- 0,6071) {常见问题};
  \node[topic] (xt-4-1) at (xt-4.south east |- 0,6019) {新增/删除常见问题};
  \node[hub] (xt-4-2) at (xt-4.south east |- 0,6064) {编辑常见问题};
  \node[topic] (xt-4-2-1) at (xt-4-2.south east |- 0,6049) {编辑标题};
  \node[topic] (xt-4-2-2) at (xt-4-2.south east |- 0,6079) {编辑内容};
  \node[hub] (xt-4-3) at (xt-4.south east |- 0,6124) {预览};
  \node[topic] (xt-4-3-1) at (xt-4-3.south east |- 0,6109) {PC预览};
  \node[topic] (xt-4-3-2) at (xt-4-3.south east |- 0,6139) {移动端预览};
  \node[hub, xshift=14pt] (xt-5) at (xt.east |- 0,6667) {权限管理};
  \node[hub] (xt-5-1) at (xt-5.south east |- 0,6184) {风控管理};
  \node[hub] (xt-5-1-1) at (xt-5-1.south east |- 0,6169) {查看风控记录};
  \node[topic] (xt-5-1-1-1) at (xt-5-1-1.south east) {申请以租代购};
  \node[topic] (xt-5-1-2) at (xt-5-1.south east |- 0,6199) {个人风控查询};
  \node[hub] (xt-5-2) at (xt-5.south east |- 0,6394) {订单管理};
  \node[hub] (xt-5-2-1) at (xt-5-2.south east) {订单列表查看};
  \node[topic] (xt-5-2-1-1) at (xt-5-2-1.south east |- 0,6229) {修改门店};
  \node[topic] (xt-5-2-1-2) at (xt-5-2-1.south east |- 0,6259) {修改业务员};
  \node[topic] (xt-5-2-1-3) at (xt-5-2-1.south east |- 0,6289) {图片资料审核};
  \node[topic] (xt-5-2-1-4) at (xt-5-2-1.south east |- 0,6319) {修改费用清单};
  \node[topic] (xt-5-2-1-5) at (xt-5-2-1.south east |- 0,6349) {修改还款计划};
  \node[topic] (xt-5-2-1-6) at (xt-5-2-1.south east |- 0,6379) {查看/下载合同};
  \node[topic] (xt-5-2-1-7) at (xt-5-2-1.south east |- 0,6409) {发起线下还款};
  \node[topic] (xt-5-2-1-8) at (xt-5-2-1.south east |- 0,6439) {发起代扣还款};
  \node[topic] (xt-5-2-1-9) at (xt-5-2-1.south east |- 0,6469) {查看操作记录};
  \node[topic] (xt-5-2-1-10) at (xt-5-2-1.south east |- 0,6499) {修改提车状态};
  \node[topic] (xt-5-2-1-11) at (xt-5-2-1.south east |- 0,6529) {修改提车时间};
  \node[topic] (xt-5-2-1-12) at (xt-5-2-1.south east |- 0,6559) {修改提车地点};
  \node[hub] (xt-5-3) at (xt-5.south east |- 0,6739) {综合管理};
  \node[topic] (xt-5-3-1) at (xt-5-3.south east |- 0,6589) {门店列表查看};
  \node[topic] (xt-5-3-2) at (xt-5-3.south east |- 0,6619) {编辑门店信息};
  \node[topic] (xt-5-3-3) at (xt-5-3.south east |- 0,6649) {新增/删除/关停门店};
  \node[topic] (xt-5-3-4) at (xt-5-3.south east |- 0,6679) {查看员工信息};
  \node[topic] (xt-5-3-5) at (xt-5-3.south east |- 0,6709) {导入员工信息};
  \node[topic] (xt-5-3-6) at (xt-5-3.south east) {查看车辆列表};
  \node[topic] (xt-5-3-7) at (xt-5-3.south east |- 0,6769) {编辑车辆信息};
  \node[topic] (xt-5-3-8) at (xt-5-3.south east |- 0,6799) {编辑车商价};
  \node[topic] (xt-5-3-9) at (xt-5-3.south east |- 0,6829) {新增车辆};
  \node[topic] (xt-5-3-10) at (xt-5-3.south east |- 0,6859) {删除/下架车辆};
  \node[topic] (xt-5-3-11) at (xt-5-3.south east |- 0,6889) {编辑库存};
  \node[hub] (xt-5-4) at (xt-5.south east |- 0,6919) {用户管理};
  \node[topic] (xt-5-4-1) at (xt-5-4.south east) {查看用户信息};
  \node[hub] (xt-5-5) at (xt-5.south east |- 0,6964) {权限管理};
  \node[topic] (xt-5-5-1) at (xt-5-5.south east |- 0,6949) {编辑权限};
  \node[topic] (xt-5-5-2) at (xt-5-5.south east |- 0,6979) {编辑角色};
  \node[hub] (xt-5-6) at (xt-5.south east |- 0,7031.5) {系统管理};
  \node[topic] (xt-5-6-1) at (xt-5-6.south east |- 0,7009) {活动管理};
  \node[hub] (xt-5-6-2) at (xt-5-6.south east |- 0,7054) {短信发送记录};
  \node[topic] (xt-5-6-2-1) at (xt-5-6-2.south east |- 0,7039) {查询};
  \node[topic] (xt-5-6-2-2) at (xt-5-6-2.south east |- 0,7069) {发送自定义短信};
  \node[hub] (xt-5-7) at (xt-5.south east |- 0,7151.5) {报表管理};
  \node[topic] (xt-5-7-1) at (xt-5-7.south east |- 0,7099) {确认代扣};
  \node[topic] (xt-5-7-2) at (xt-5-7.south east |- 0,7129) {发起代扣};
  \node[topic] (xt-5-7-3) at (xt-5-7.south east |- 0,7159) {代扣结果查询};
  \node[hub] (xt-5-7-4) at (xt-5-7.south east |- 0,7204) {费用模板管理};
  \node[topic] (xt-5-7-4-1) at (xt-5-7-4.south east |- 0,7189) {查看费用模板};
  \node[topic] (xt-5-7-4-2) at (xt-5-7-4.south east |- 0,7219) {新增/编辑/删除费用模板};
  \foreach \k in {1,...,5} \draw[link] (xt.east) -- ++(14pt,0) |- (xt-\k.south east);
  \foreach \k in {1,2} \draw[link] (xt-2.south east) |- (xt-2-\k.south east);
  \draw[link] (xt-2-2.south east) -- (xt-2-2-1.south east);
  \foreach \k in {1,3} \draw[link] (xt-3.south east) |- (xt-3-\k.south east);
  \draw[link] (xt-3.south east) -- (xt-3-2.south east);
  \foreach \k in {1,2,3} \draw[link] (xt-4.south east) |- (xt-4-\k.south east);
  \foreach \k in {1,2} \draw[link] (xt-4-2.south east) |- (xt-4-2-\k.south east);
  \foreach \k in {1,2} \draw[link] (xt-4-3.south east) |- (xt-4-3-\k.south east);
  \foreach \k in {1,...,7} \draw[link] (xt-5.south east) |- (xt-5-\k.south east);
  \foreach \k in {1,2} \draw[link] (xt-5-1.south east) |- (xt-5-1-\k.south east);
  \draw[link] (xt-5-1-1.south east) -- (xt-5-1-1-1.south east);
  \draw[link] (xt-5-2.south east) -- (xt-5-2-1.south east);
  \foreach \k in {1,...,12} \draw[link] (xt-5-2-1.south east) |- (xt-5-2-1-\k.south east);
  \foreach \k in {1,...,5,7,8,9,10,11} \draw[link] (xt-5-3.south east) |- (xt-5-3-\k.south east);
  \draw[link] (xt-5-3.south east) -- (xt-5-3-6.south east);
  \draw[link] (xt-5-4.south east) -- (xt-5-4-1.south east);
  \foreach \k in {1,2} \draw[link] (xt-5-5.south east) |- (xt-5-5-\k.south east);
  \foreach \k in {1,2} \draw[link] (xt-5-6.south east) |- (xt-5-6-\k.south east);
  \foreach \k in {1,2} \draw[link] (xt-5-6-2.south east) |- (xt-5-6-2-\k.south east);
  \foreach \k in {1,...,4} \draw[link] (xt-5-7.south east) |- (xt-5-7-\k.south east);
  \foreach \k in {1,2} \draw[link] (xt-5-7-4.south east) |- (xt-5-7-4-\k.south east);

  \foreach \b in {sy,fk,dd,yh,zh,yy,xt} \filldraw[foldring] ([xshift=7pt]\b.east) circle (4.2pt) ([xshift=4.6pt]\b.east) -- ([xshift=9.4pt]\b.east);
  \filldraw[foldring] ([xshift=17pt]fkdf.east) circle (4.2pt) ([xshift=14.6pt]fkdf.east) -- ([xshift=19.4pt]fkdf.east);

  \draw[relation, -{Latex[length=9pt,width=7pt]}] (fkdf.north) .. controls (625,690) and (400,520) .. ([xshift=4pt]fk-1.south);
  \draw[relation] (fk-1-8.south) .. controls (540,600) and (740,640) .. (zl.north);
  \draw[relation, -{Latex[length=9pt,width=7pt]}] (yh-1-1-10.north) .. controls (680,3250) and (570,2300) .. (415,1800) .. controls (300,1400) and (315,900) .. ([xshift=-5pt]fk-1.south);
  \draw[relation, -{Latex[length=9pt,width=7pt]}] (yh-1-1-9.north) .. controls (600,3000) and (330,2500) .. (dd-1.south);
  \draw[relation, -{Latex[length=9pt,width=7pt]}] (dd-1-9.south) .. controls (370,1800) and (380,2100) .. (430,2480) .. controls (500,2850) and (560,3250) .. (yh-1-1.north);
\end{tikzpicture}
\end{document}
